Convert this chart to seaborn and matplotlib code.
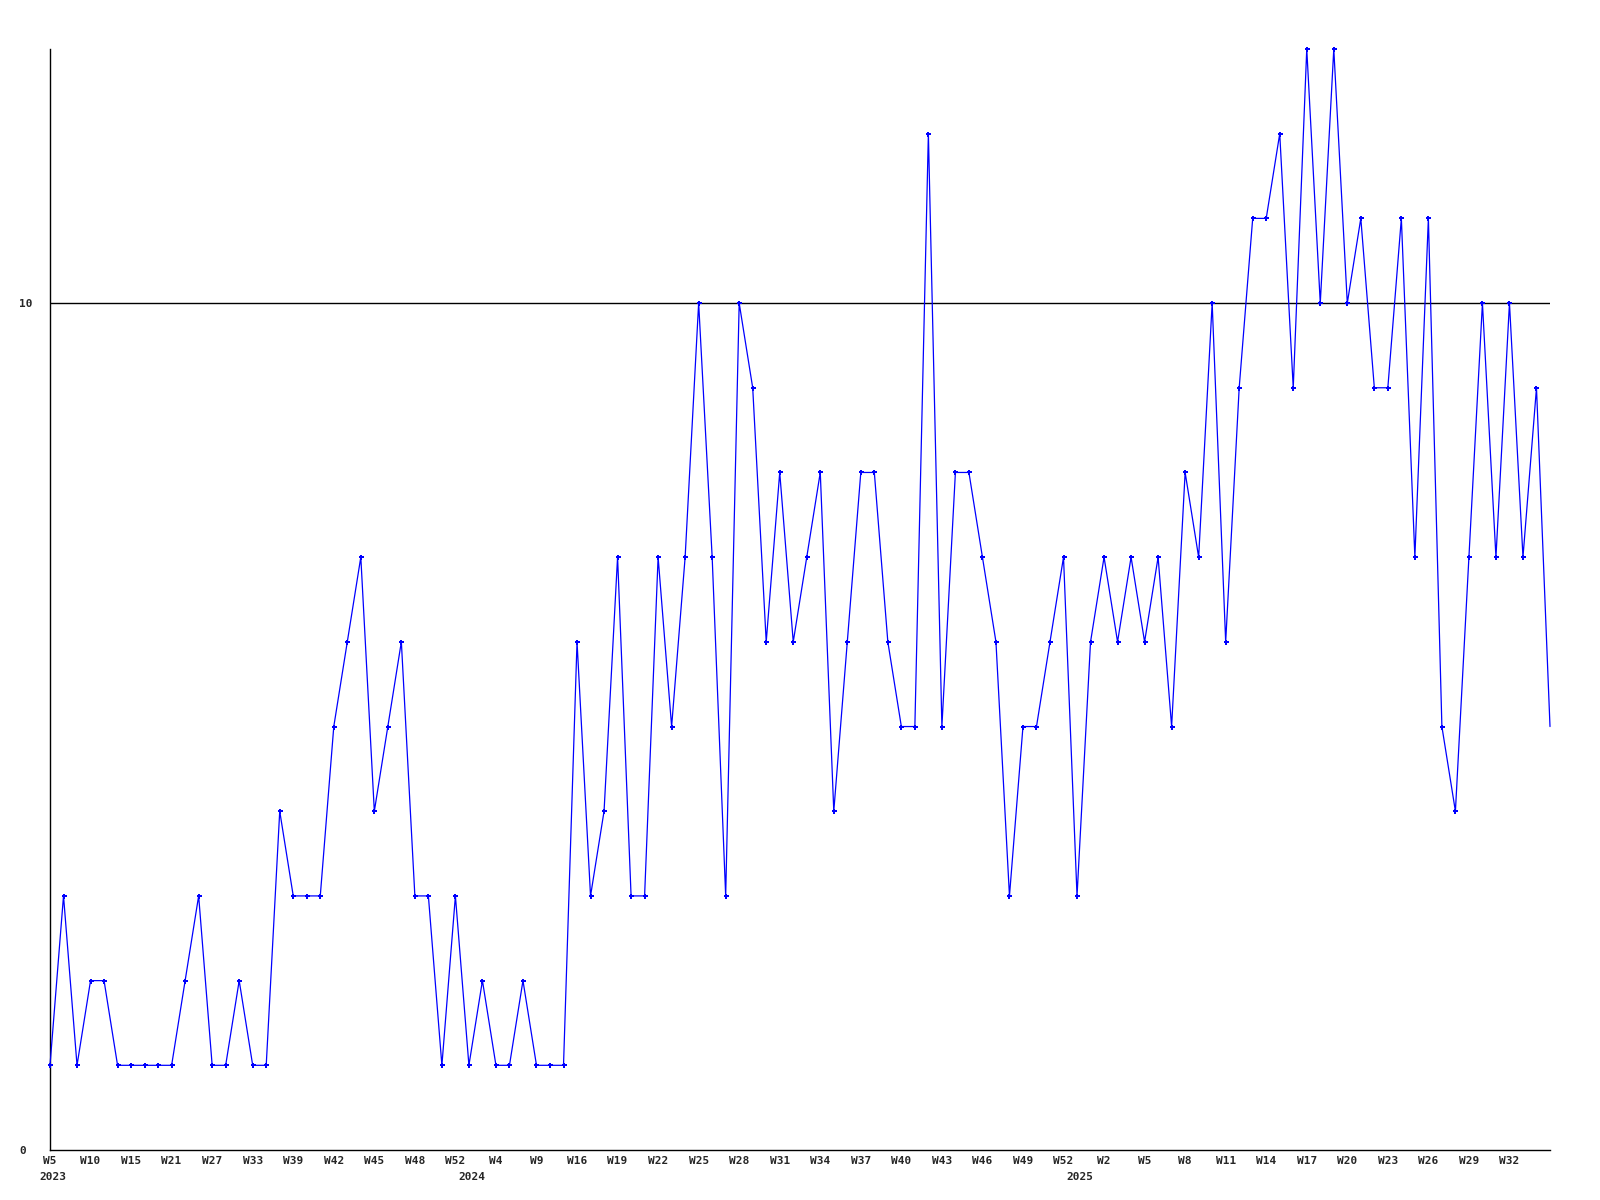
import pandas as pd
import matplotlib
matplotlib.use("Agg")
import matplotlib.pyplot as plt
import seaborn as sns

# weekly counts, one value per plotted week (112 weeks)
counts = [1, 3, 1, 2, 2, 1, 1, 1, 1, 1,
          2, 3, 1, 1, 2, 1, 1, 4, 3, 3,
          3, 5, 6, 7, 4, 5, 6, 3, 3, 1,
          3, 1, 2, 1, 1, 2, 1, 1, 1, 6,
          3, 4, 7, 3, 3, 7, 5, 7, 10, 7,
          3, 10, 9, 6, 8, 6, 7, 8, 4, 6,
          8, 8, 6, 5, 5, 12, 5, 8, 8, 7,
          6, 3, 5, 5, 6, 7, 3, 6, 7, 6,
          7, 6, 7, 5, 8, 7, 10, 6, 9, 11,
          11, 12, 9, 13, 10, 13, 10, 11, 9, 9,
          11, 7, 11, 5, 4, 7, 10, 7, 10, 7,
          9, 5]

# labels shown on every third week
week_labels = ['W5', 'W10', 'W15', 'W21', 'W27', 'W33', 'W39', 'W42', 'W45',
               'W48', 'W52', 'W4', 'W9', 'W16', 'W19', 'W22', 'W25', 'W28',
               'W31', 'W34', 'W37', 'W40', 'W43', 'W46', 'W49', 'W52', 'W2',
               'W5', 'W8', 'W11', 'W14', 'W17', 'W20', 'W23', 'W26', 'W29',
               'W32']
label_step = 3

# year names and the week index where each year starts
years = ['2023', '2024', '2025']
year_start = [0, 31, 76]

df = pd.DataFrame({'week': range(len(counts)), 'count': counts})

sns.set_style('white')
plt.rcParams['font.family'] = ['DejaVu Sans Mono']

fig = plt.figure(figsize=(16, 12), dpi=100)
ax = fig.add_axes([50 / 1600, 1 - 1150 / 1200, 1500 / 1600, 1101 / 1200])

ax.axhline(10, color='black', lw=1, zorder=1)
sns.lineplot(data=df, x='week', y='count', ax=ax, color='#0000ff', lw=0.9,
             marker='P', markersize=3.6, markeredgewidth=0,
             markevery=list(range(len(counts) - 1)), zorder=3, clip_on=False)

ax.set_xlim(0, len(counts) - 1)
ax.set_ylim(0, 13)

ax.set_xticks(range(0, len(week_labels) * label_step, label_step))
ax.set_xticklabels(week_labels, fontsize=8, fontweight='bold')
ax.set_yticks([0, 10])
ax.set_yticklabels(['0', '10'], fontsize=8, fontweight='bold', ha='left')
ax.tick_params(axis='x', length=0, pad=4)
ax.tick_params(axis='y', length=0, pad=22)

for name, pos in zip(years, year_start):
    ax.annotate(name, xy=(pos, 0), xycoords=('data', 'axes fraction'),
                xytext=(3, -22), textcoords='offset pixels', ha='center',
                va='top', fontsize=8, fontweight='bold')

ax.set_xlabel('')
ax.set_ylabel('')
for side in ['top', 'right']:
    ax.spines[side].set_visible(False)
for side in ['left', 'bottom']:
    ax.spines[side].set_color('black')
    ax.spines[side].set_linewidth(1)

fig.savefig('out.png', dpi=100)
